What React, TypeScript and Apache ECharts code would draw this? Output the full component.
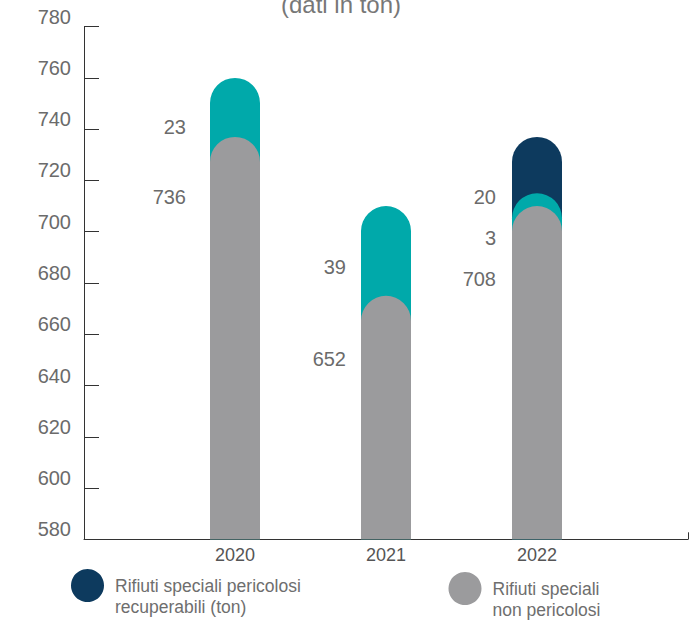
import React, { useEffect, useRef } from "react";
import * as echarts from "echarts";

// Years on the x axis
const years = ["2020", "2021", "2022"];

// Numbers printed next to each segment (ton)
const nonPericolosi = [736, 652, 708];
const pericolosi = [23, 39, 3];
const pericolosiRecuperabili: (number | null)[] = [null, null, 20];

// Tops of the bars as they are drawn in the picture (value-axis units)
const nonPericolosiTop = [737, 675, 710];
const pericolosiTop = [760, 710, 715];
const recuperabiliTop: (number | null)[] = [null, null, 737];

// Y axis range
const yMin = 580;
const yMax = 780;
const yStep = 20;

const NAVY = "#0d3a5e";
const TEAL = "#00a9aa";
const GREY = "#9b9b9d";
const TEXT = "#6b6b6b";
const FONT = "'Liberation Sans', Arial, sans-serif";

// label anchor offsets relative to each bar's top-left corner
const labelPos = {
  navy: [null, null, [-16, 60]],
  teal: [[-24, 49], [-15, 61], [-16, 45]],
  grey: [[-24, 60], [-15, 63], [-16, 73]],
};

export default function App() {
  const ref = useRef<HTMLDivElement>(null);

  useEffect(() => {
    if (!ref.current) return;
    const chart = echarts.init(ref.current, null, { renderer: "svg" });

    const axisCats = ["", ...years, ""];

    const build = (
      tops: (number | null)[],
      printed: (number | null)[],
      pos: any[]
    ) => [
      "-",
      ...tops.map((v, i) =>
        v == null
          ? "-"
          : {
              value: v,
              label: {
                show: true,
                position: pos[i],
                align: "right",
                verticalAlign: "middle",
                formatter: String(printed[i]),
              },
            }
      ),
      "-",
    ];

    const commonLabel = {
      fontFamily: FONT,
      fontSize: 20,
      color: TEXT,
    };

    const legendText = {
      fontFamily: FONT,
      fontSize: 17.5,
      color: "#6e6e6e",
      lineHeight: 21,
      padding: [0, 0, 0, 6],
    };

    chart.setOption({
      animation: false,
      backgroundColor: "#ffffff",
      textStyle: { fontFamily: FONT },
      graphic: [
        {
          type: "text",
          x: 341,
          y: 16,
          style: {
            text: "(dati in ton)",
            align: "center",
            verticalAlign: "bottom",
            fontFamily: FONT,
            fontSize: 24,
            fill: "#777777",
          },
        },
      ],
      grid: { left: 84, right: 9, top: 26.7, bottom: 80.7, containLabel: false },
      legend: [
        {
          data: ["Rifiuti speciali pericolosi\nrecuperabili (ton)"],
          left: 71,
          top: 554,
          padding: 0,
          icon: "circle",
          itemWidth: 33,
          itemHeight: 33,
          formatter: (name: string) => "\n" + name,
          textStyle: legendText,
          selectedMode: false,
        },
        {
          data: ["Rifiuti speciali\nnon pericolosi"],
          left: 448.5,
          top: 557,
          padding: 0,
          icon: "circle",
          itemWidth: 33,
          itemHeight: 33,
          formatter: (name: string) => "\n" + name,
          textStyle: legendText,
          selectedMode: false,
        },
      ],
      xAxis: {
        type: "category",
        data: axisCats,
        boundaryGap: false,
        axisLine: { show: true, lineStyle: { color: "#333333", width: 1 } },
        axisTick: {
          show: true,
          inside: true,
          length: 7,
          interval: (i: number) => i === axisCats.length - 1,
          lineStyle: { color: "#333333" },
        },
        axisLabel: {
          fontFamily: FONT,
          fontSize: 18,
          color: "#555555",
          margin: 7,
        },
        splitLine: { show: false },
      },
      yAxis: {
        type: "value",
        min: yMin,
        max: yMax,
        interval: yStep,
        axisLine: { show: true, lineStyle: { color: "#333333", width: 1 } },
        axisTick: {
          show: true,
          inside: true,
          length: 15,
          lineStyle: { color: "#333333" },
        },
        axisLabel: {
          fontFamily: FONT,
          fontSize: 20,
          color: TEXT,
          margin: 13,
          verticalAlign: "bottom",
          lineHeight: 20,
        },
        splitLine: { show: false },
      },
      series: [
        {
          name: "Rifiuti speciali pericolosi\nrecuperabili (ton)",
          type: "bar",
          barWidth: 50,
          barGap: "-100%",
          z: 2,
          itemStyle: { color: NAVY, borderRadius: [25, 25, 0, 0] },
          label: commonLabel,
          data: build(recuperabiliTop, pericolosiRecuperabili, labelPos.navy),
        },
        {
          name: "Rifiuti speciali pericolosi (ton)",
          type: "bar",
          barWidth: 50,
          barGap: "-100%",
          z: 3,
          itemStyle: { color: TEAL, borderRadius: [25, 25, 0, 0] },
          label: commonLabel,
          data: build(pericolosiTop, pericolosi, labelPos.teal),
        },
        {
          name: "Rifiuti speciali\nnon pericolosi",
          type: "bar",
          barWidth: 50,
          barGap: "-100%",
          z: 4,
          itemStyle: { color: GREY, borderRadius: [25, 25, 0, 0] },
          label: commonLabel,
          data: build(nonPericolosiTop, nonPericolosi, labelPos.grey),
        },
      ],
    });

    return () => chart.dispose();
  }, []);

  return (
    <div
      ref={ref}
      style={{ position: "absolute", left: 0, top: 0, width: 697, height: 620 }}
    />
  );
}
